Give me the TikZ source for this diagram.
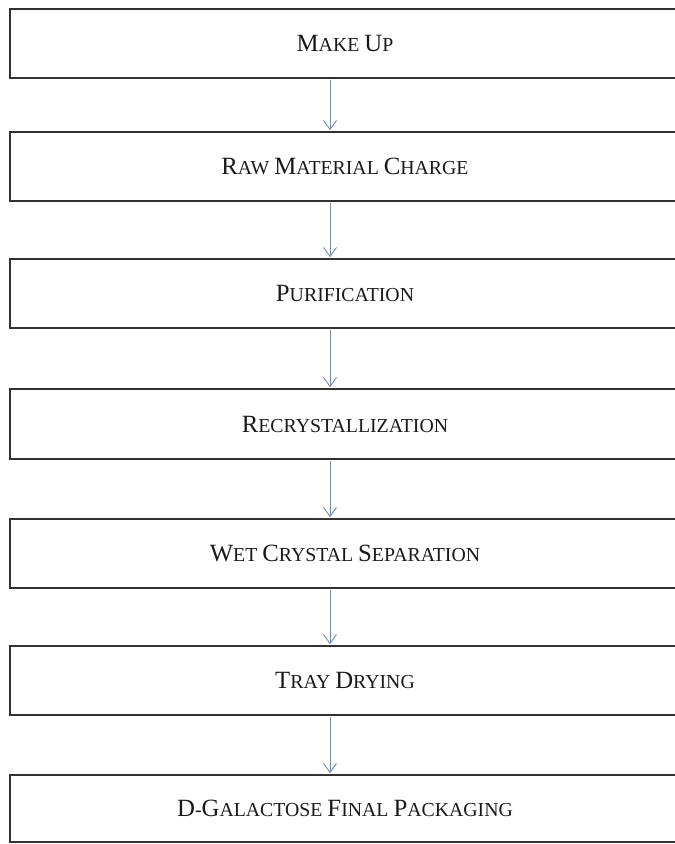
\documentclass[tikz,border=0pt]{standalone}
\usepackage{fontspec}
\setmainfont{Liberation Serif}
\usetikzlibrary{arrows.meta}
\newcommand\BigL[1]{{\fontsize{24.8}{26}\selectfont #1}}
\definecolor{arrowblue}{RGB}{115,140,182}
\definecolor{boxline}{RGB}{50,50,50}
\tikzset{
  stepbox/.style={draw=boxline, line width=1.6pt, rectangle, inner sep=0pt,
    minimum width=670pt, font=\fontsize{19.8}{22}\selectfont, text=black!90},
  flowarrow/.style={draw=arrowblue, line width=0.9pt,
    -{Straight Barb[length=9pt,width=13pt]}}
}
\begin{document}
\begin{tikzpicture}[x=1pt,y=-1pt]
\useasboundingbox (0,0) rectangle (675,844);
\node[stepbox, minimum height=69pt] (n1) at (345,43.5) {\BigL{M}AKE \BigL{U}P};
\node[stepbox, minimum height=69pt] (n2) at (345,166.5) {\BigL{R}AW \BigL{M}ATERIAL \BigL{C}HARGE};
\node[stepbox, minimum height=69pt] (n3) at (345,293.5) {\BigL{P}URIFICATION};
\node[stepbox, minimum height=70pt] (n4) at (345,424) {\BigL{R}ECRYSTALLIZATION};
\node[stepbox, minimum height=69pt] (n5) at (345,553.5) {\BigL{W}ET \BigL{C}RYSTAL \BigL{S}EPARATION};
\node[stepbox, minimum height=69pt] (n6) at (345,680.5) {\BigL{T}RAY \BigL{D}RYING};
\node[stepbox, minimum height=67pt] (n7) at (345,808.5) {\BigL{D}-\BigL{G}ALACTOSE \BigL{F}INAL \BigL{P}ACKAGING};
\foreach \a/\b in {n1/n2,n2/n3,n3/n4,n4/n5,n5/n6,n6/n7}{
  \draw[flowarrow] ([xshift=-15pt,yshift=-1pt]\a.south) -- ([xshift=-15pt,yshift=1pt]\b.north);
}
\end{tikzpicture}
\end{document}
